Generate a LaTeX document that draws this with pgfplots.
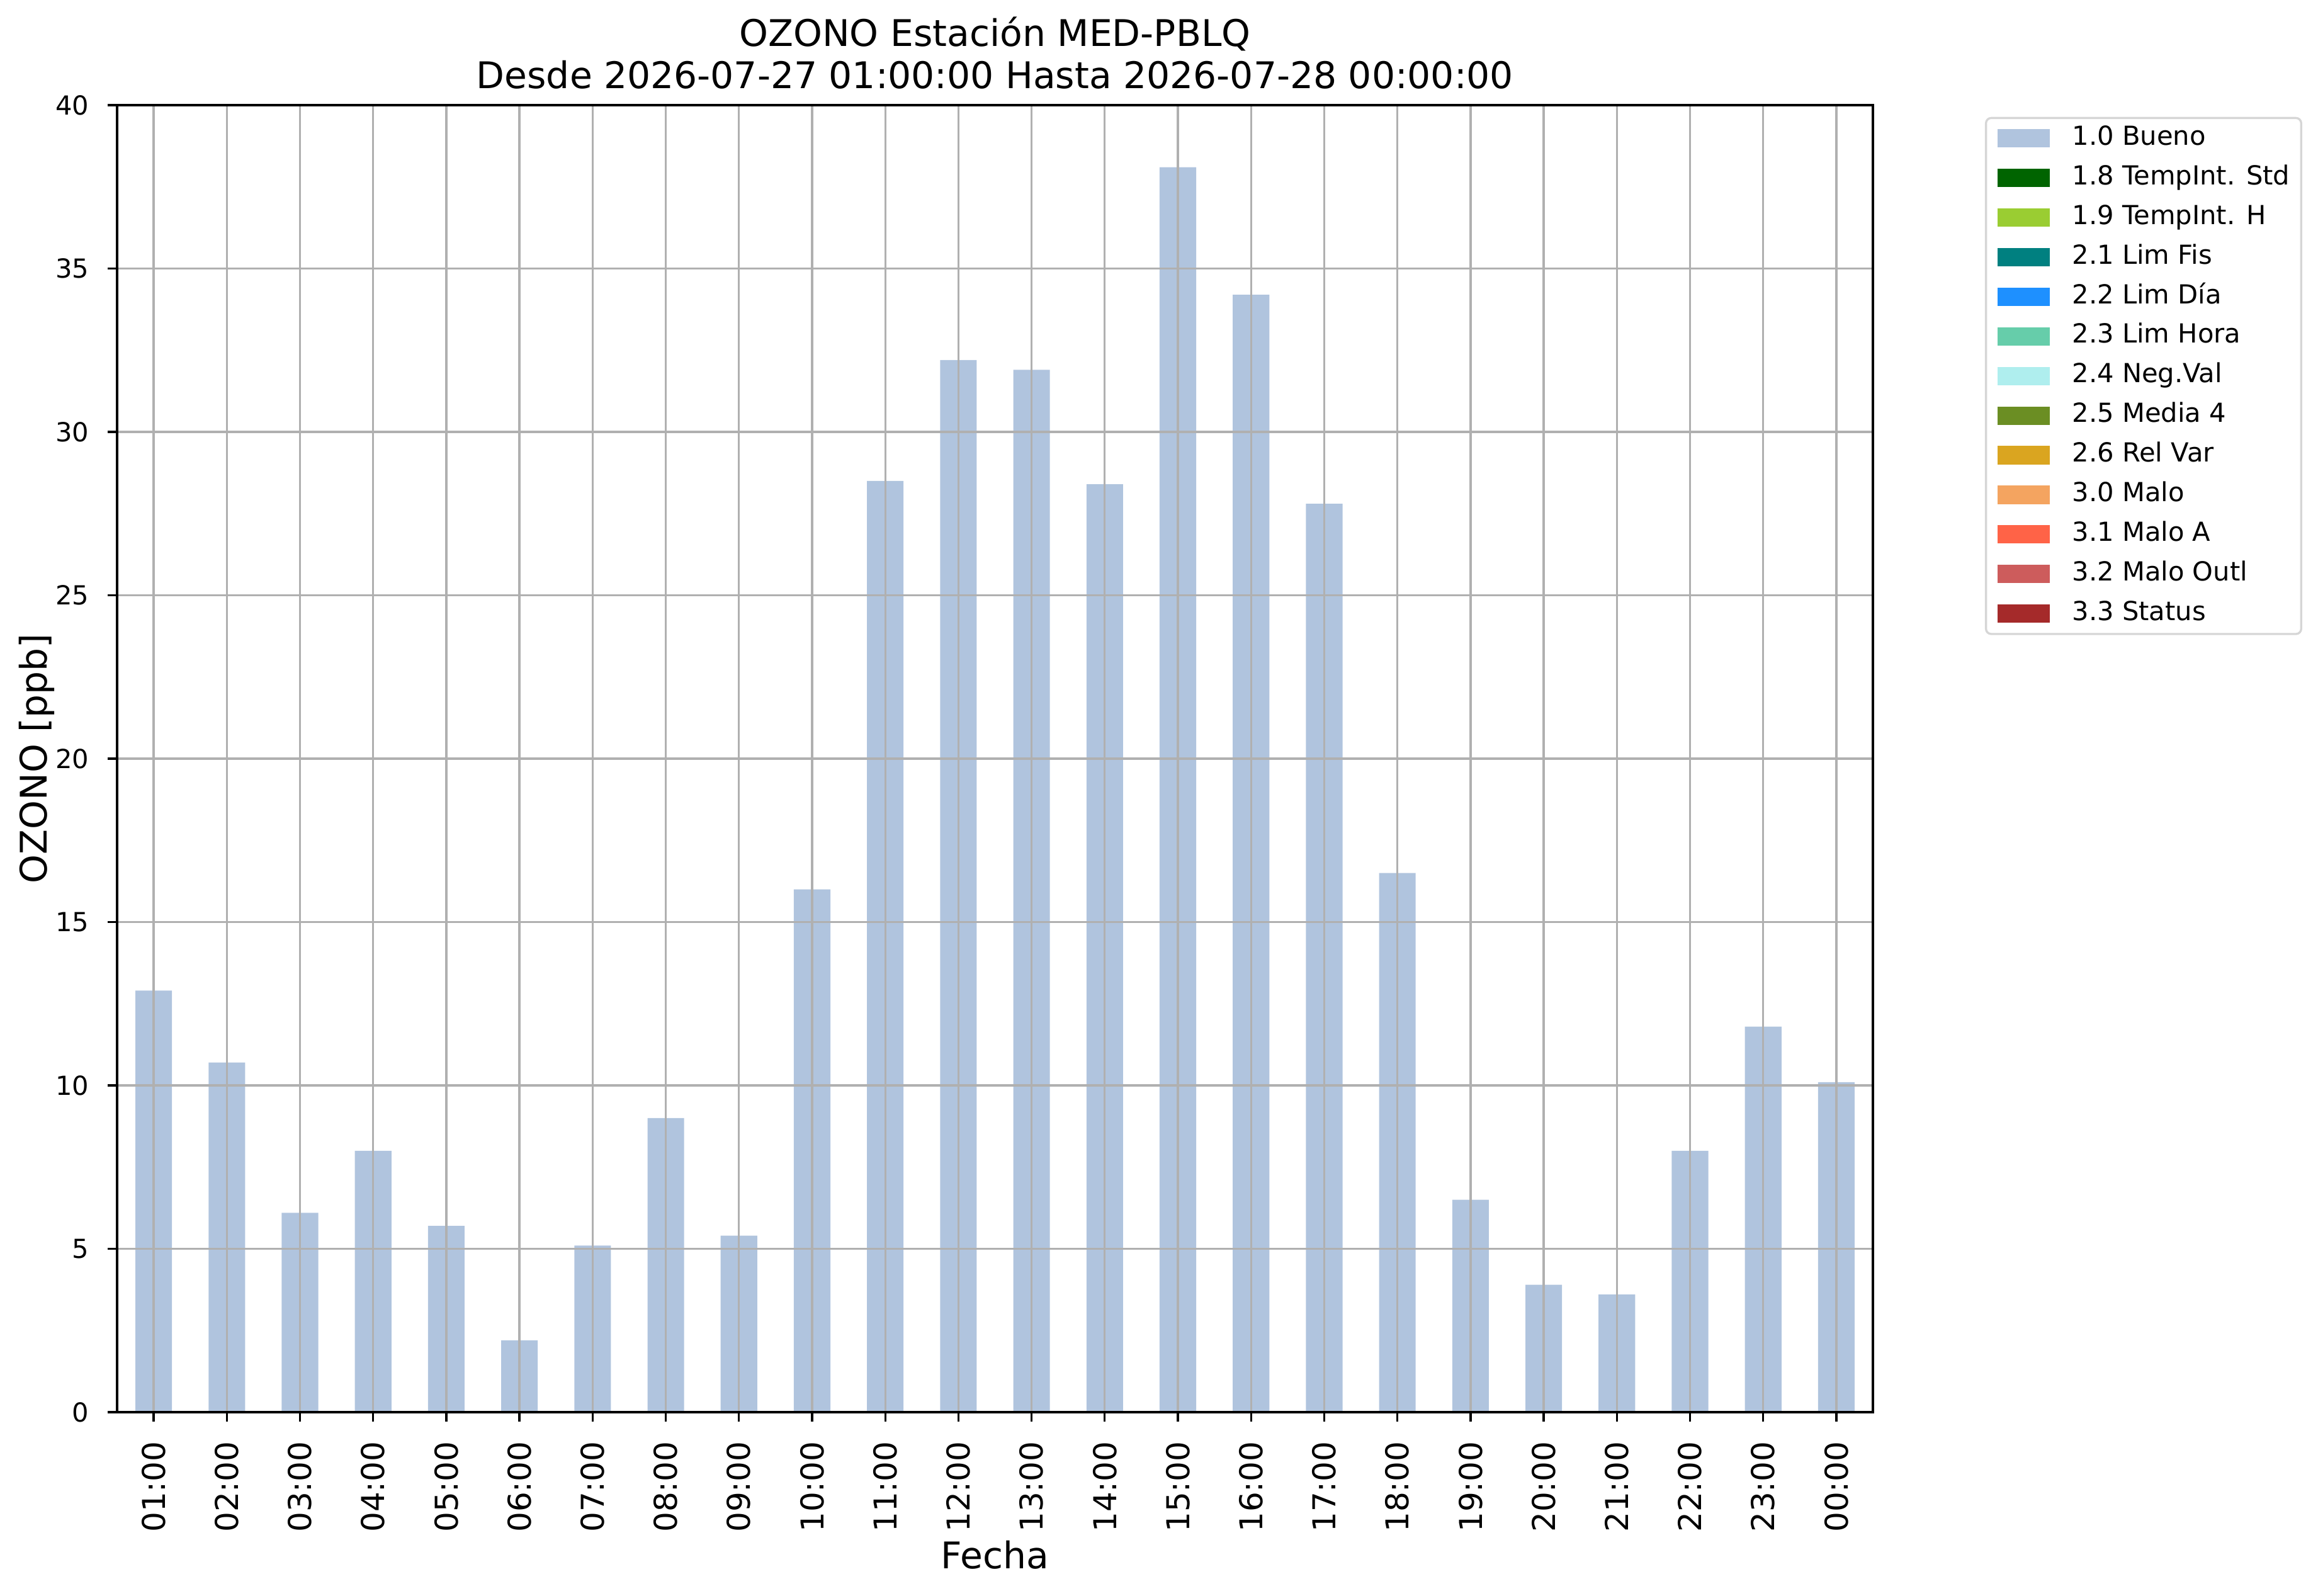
\documentclass[border=0pt]{standalone}
\usepackage{pgfplots}
\pgfplotsset{compat=1.18}
\usepackage{fontspec}
\setmainfont{DejaVu Sans}
\definecolor{c10}{HTML}{B0C4DE}
\definecolor{c18}{HTML}{006400}
\definecolor{c19}{HTML}{9ACD32}
\definecolor{c21}{HTML}{008080}
\definecolor{c22}{HTML}{1E90FF}
\definecolor{c23}{HTML}{66CDAA}
\definecolor{c24}{HTML}{AFEEEE}
\definecolor{c25}{HTML}{6B8E23}
\definecolor{c26}{HTML}{DAA520}
\definecolor{c30}{HTML}{F4A460}
\definecolor{c31}{HTML}{FF6347}
\definecolor{c32}{HTML}{CD5C5C}
\definecolor{c33}{HTML}{A52A2A}
\definecolor{gridc}{HTML}{B0B0B0}
\pgfplotstableread{
x y
0 12.9
1 10.7
2 6.1
3 8.0
4 5.7
5 2.2
6 5.1
7 9.0
8 5.4
9 16.0
10 28.5
11 32.2
12 31.9
13 28.4
14 38.1
15 34.2
16 27.8
17 16.5
18 6.5
19 3.9
20 3.6
21 8.0
22 11.8
23 10.1
}\ozono
\pgfplotsset{mylegend/.style={legend image code/.code={\fill[##1, draw=none, sharp corners] (0pt,-3.5pt) rectangle (20pt,3.5pt);}}}
\newcommand{\xtf}{\fontsize{12}{14.4}\selectfont}
\begin{document}
\begin{tikzpicture}
\path[use as bounding box] (0,0) rectangle (883.68pt,608.16pt);
\begin{axis}[
  at={(44.64pt,69.84pt)}, anchor=south west,
  width=669.36pt, height=498.24pt, scale only axis,
  xmin=-0.5, xmax=23.5, ymin=0, ymax=40,
  xtick={0,...,23},
  xticklabels={\xtf 01:00,\xtf 02:00,\xtf 03:00,\xtf 04:00,\xtf 05:00,\xtf 06:00,\xtf 07:00,\xtf 08:00,\xtf 09:00,\xtf 10:00,\xtf 11:00,\xtf 12:00,\xtf 13:00,\xtf 14:00,\xtf 15:00,\xtf 16:00,\xtf 17:00,\xtf 18:00,\xtf 19:00,\xtf 20:00,\xtf 21:00,\xtf 22:00,\xtf 23:00,\xtf 00:00},
  ytick={0,5,...,40},
  /pgf/number format/assume math mode=true,
  xtick pos=bottom, ytick pos=left,
  tick align=outside, major tick length=3.5pt,
  tick style={line width=0.8pt, black},
  axis line style={line width=0.8pt, black},
  grid=major, grid style={line width=0.8pt, gridc},
  axis on top,
  xticklabel style={yshift=-7.5pt, rotate=90, anchor=east, inner sep=0pt, font=\xtf},
  yticklabel style={xshift=-7pt, anchor=east, inner sep=0pt, font=\fontsize{10}{12}\selectfont},
  xlabel={Fecha}, ylabel={OZONO [ppb]},
  xlabel style={at={(axis description cs:0.5,-0.1199)}, anchor=base, inner sep=0pt, font=\fontsize{14}{16}\selectfont},
  ylabel style={at={(axis description cs:-0.0354,0.5)}, anchor=south, inner sep=0pt, font=\fontsize{14}{16}\selectfont},
  title={OZONO Estación MED-PBLQ\\Desde 2026-07-27 01:00:00 Hasta 2026-07-28 00:00:00},
  title style={align=center, font=\fontsize{14}{16.1}\selectfont, at={(axis description cs:0.5,1)}, anchor=south, inner sep=0pt},
  legend style={at={(1,1)}, anchor=north west, xshift=42.7pt, yshift=-4.5pt,
    draw=black!16, line width=0.8pt, rounded corners=2pt,
    inner xsep=4.3pt, inner ysep=3pt, font=\fontsize{10}{12}\selectfont,
    row sep=5.6pt, column sep=8.6pt,
    nodes={inner sep=0pt, text height=7.3pt, text depth=2.2pt}},
  legend cell align=left,
]
\addplot[ybar, bar width=0.5, fill=c10, draw=none, mylegend] table[x=x,y=y] {\ozono};
\addlegendentry{1.0 Bueno}
\addlegendimage{mylegend, fill=c18}\addlegendentry{1.8 TempInt. Std}
\addlegendimage{mylegend, fill=c19}\addlegendentry{1.9 TempInt. H}
\addlegendimage{mylegend, fill=c21}\addlegendentry{2.1 Lim Fis}
\addlegendimage{mylegend, fill=c22}\addlegendentry{2.2 Lim Día}
\addlegendimage{mylegend, fill=c23}\addlegendentry{2.3 Lim Hora}
\addlegendimage{mylegend, fill=c24}\addlegendentry{2.4 Neg.Val}
\addlegendimage{mylegend, fill=c25}\addlegendentry{2.5 Media 4}
\addlegendimage{mylegend, fill=c26}\addlegendentry{2.6 Rel Var}
\addlegendimage{mylegend, fill=c30}\addlegendentry{3.0 Malo}
\addlegendimage{mylegend, fill=c31}\addlegendentry{3.1 Malo A}
\addlegendimage{mylegend, fill=c32}\addlegendentry{3.2 Malo Outl}
\addlegendimage{mylegend, fill=c33}\addlegendentry{3.3 Status}
\end{axis}
\end{tikzpicture}
\end{document}
